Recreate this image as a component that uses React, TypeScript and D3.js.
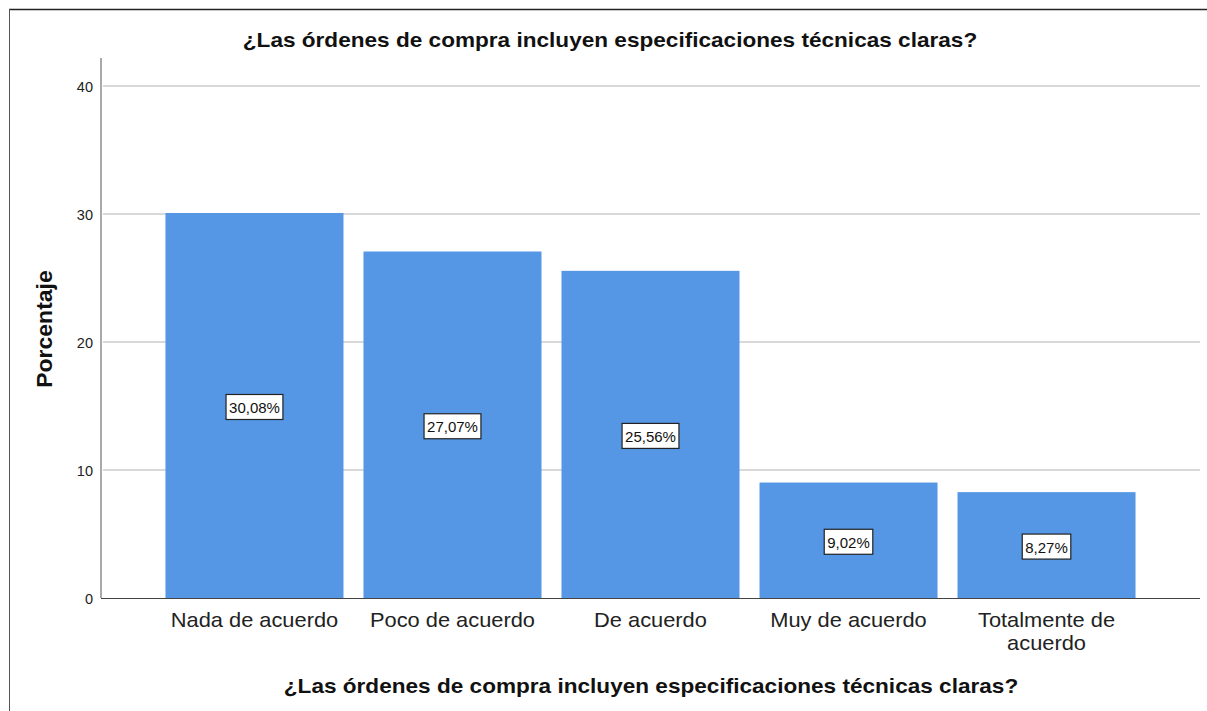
import React, { useEffect, useRef } from "react";
import * as d3 from "d3";

const categories = ["Nada de acuerdo", "Poco de acuerdo", "De acuerdo", "Muy de acuerdo", "Totalmente de acuerdo"];
const categoryLines = [["Nada de acuerdo"], ["Poco de acuerdo"], ["De acuerdo"], ["Muy de acuerdo"], ["Totalmente de", "acuerdo"]];
const values = [30.08, 27.07, 25.56, 9.02, 8.27];
const labels = ["30,08%", "27,07%", "25,56%", "9,02%", "8,27%"];
const yTicks = [0, 10, 20, 30, 40];
const title = "¿Las órdenes de compra incluyen especificaciones técnicas claras?";
const yTitle = "Porcentaje";

const W = 1207, H = 711;
const FONT = "'Liberation Sans', Arial, sans-serif";

export default function App() {
  const ref = useRef<SVGSVGElement>(null);
  useEffect(() => {
    const svg = d3.select(ref.current);
    svg.selectAll("*").remove();
    const left = 101, right = 1200, top = 86, bottom = 598;
    const y = d3.scaleLinear().domain([0, 40]).range([bottom, top]);
    const x = d3.scaleBand<string>().domain(categories).range([left, right]).paddingInner(0.101).paddingOuter(0.3256);

    svg.append("rect").attr("width", W).attr("height", H).attr("fill", "#fff");
    // frame
    svg.append("line").attr("x1", 9).attr("x2", W).attr("y1", 9.5).attr("y2", 9.5).attr("stroke", "#222").attr("stroke-width", 1.5);
    svg.append("line").attr("x1", 9.5).attr("x2", 9.5).attr("y1", 9).attr("y2", H).attr("stroke", "#555").attr("stroke-width", 1);

    // gridlines
    svg.append("g").selectAll("line").data(yTicks.filter(t => t > 0)).join("line")
      .attr("x1", left + 2).attr("x2", right).attr("y1", d => y(d)).attr("y2", d => y(d))
      .attr("stroke", "#d9d9d9").attr("stroke-width", 2);

    // bars
    svg.append("g").selectAll("rect").data(values).join("rect")
      .attr("x", (d, i) => x(categories[i])!).attr("width", x.bandwidth())
      .attr("y", d => y(d)).attr("height", d => bottom - y(d)).attr("fill", "#5596e5");

    // axes lines
    svg.append("line").attr("x1", left).attr("x2", left).attr("y1", 58).attr("y2", bottom).attr("stroke", "#8c8c8c").attr("stroke-width", 1.5);
    svg.append("line").attr("x1", left).attr("x2", right).attr("y1", bottom + 0.5).attr("y2", bottom + 0.5).attr("stroke", "#444").attr("stroke-width", 1.2);

    // y tick labels
    svg.append("g").selectAll("text").data(yTicks).join("text")
      .attr("x", 93).attr("y", d => y(d) + 6).attr("text-anchor", "end")
      .attr("font-family", FONT).attr("font-size", 14.5).attr("fill", "#222").text(d => String(d));

    // value labels
    const lg = svg.append("g").selectAll("g").data(values).join("g")
      .attr("transform", (d, i) => `translate(${x(categories[i])! + x.bandwidth() / 2},${y(d / 2) + 1.5})`);
    const rects = lg.append("rect");
    const texts = lg.append("text").attr("text-anchor", "middle").attr("y", 6).attr("font-family", FONT).attr("font-size", 15).attr("fill", "#111")
      .text((d, i) => labels[i]);
    rects.each(function (d, i) {
      const t = texts.nodes()[i] as SVGTextElement;
      const w = t.getComputedTextLength() + 6;
      d3.select(this).attr("x", -w / 2).attr("y", -12.5).attr("width", w).attr("height", 25)
        .attr("fill", "#fff").attr("stroke", "#222").attr("stroke-width", 1.2);
    });

    // category labels
    const cg = svg.append("g").selectAll("g").data(categoryLines).join("g")
      .attr("transform", (d, i) => `translate(${x(categories[i])! + x.bandwidth() / 2},627) scale(1.065,1)`);
    cg.selectAll("text").data(d => d).join("text")
      .attr("text-anchor", "middle").attr("font-family", FONT).attr("font-size", 20.5).attr("fill", "#222")
      .attr("x", 0).attr("y", (d, i) => i * 23).text(d => d);

    // titles
    const boldText = (tx: number, ty: number, rot: number, s: string) =>
      svg.append("text").attr("transform", `translate(${tx},${ty}) rotate(${rot}) scale(1.13,1)`).attr("text-anchor", "middle")
        .attr("font-family", FONT).attr("font-size", 20).attr("font-weight", "bold").attr("fill", "#111").text(s);
    boldText(610, 47, 0, title);
    boldText(651, 693, 0, title);
    svg.append("text").attr("transform", "translate(52,329) rotate(-90) scale(1.07,1)").attr("text-anchor", "middle")
      .attr("font-family", FONT).attr("font-size", 21.5).attr("font-weight", "bold").attr("fill", "#111").text(yTitle);
  }, []);
  return <svg ref={ref} width={W} height={H} style={{ position: "absolute", left: 0, top: 0, display: "block" }} />;
}
